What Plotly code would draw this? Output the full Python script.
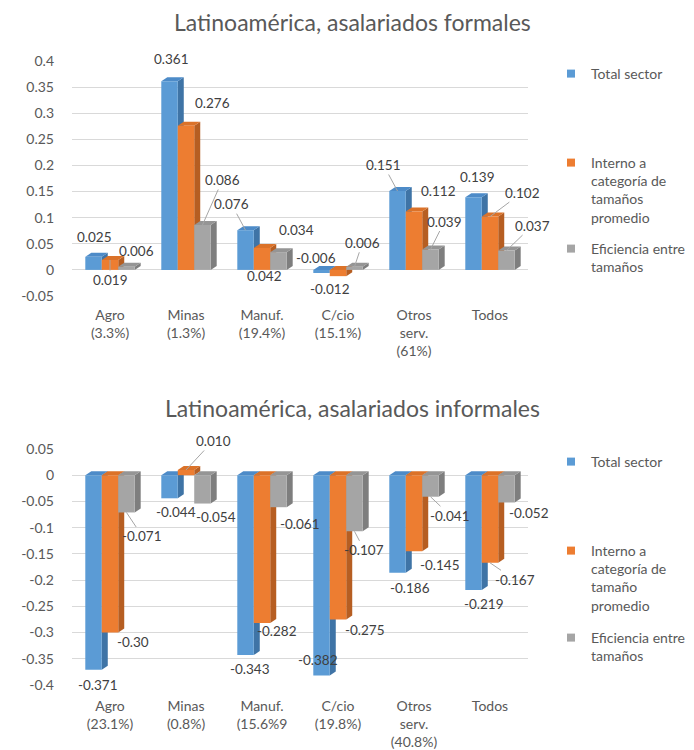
import plotly.graph_objects as go

# ---------------- data ----------------
cats_formal = ["Agro<br>(3.3%)", "Minas<br>(1.3%)", "Manuf.<br>(19.4%)", "C/cio<br>(15.1%)",
               "Otros<br>serv.<br>(61%)", "Todos"]
cats_informal = ["Agro<br>(23.1%)", "Minas<br>(0.8%)", "Manuf.<br>(15.6%9", "C/cio<br>(19.8%)",
                 "Otros<br>serv.<br>(40.8%)", "Todos"]

formal_total = [0.025, 0.361, 0.076, -0.006, 0.151, 0.139]
formal_interno = [0.019, 0.276, 0.042, -0.012, 0.112, 0.102]
formal_eficiencia = [0.006, 0.086, 0.034, 0.006, 0.039, 0.037]

informal_total = [-0.371, -0.044, -0.343, -0.382, -0.186, -0.219]
informal_interno = [-0.300, 0.010, -0.282, -0.275, -0.145, -0.167]
informal_eficiencia = [-0.071, -0.054, -0.061, -0.107, -0.041, -0.052]

names_formal = ["Total sector", "Interno a<br>categoría de<br>tamaños<br>promedio", "Eficiencia entre<br>tamaños"]
names_informal = ["Total sector", "Interno a<br>categoría de<br>tamaño<br>promedio", "Eficiencia entre<br>tamaños"]

ytick_formal = [-0.05, 0, 0.05, 0.1, 0.15, 0.2, 0.25, 0.3, 0.35, 0.4]
ytext_formal = ["-0.05", "0", "0.05", "0.1", "0.15", "0.2", "0.25", "0.3", "0.35", "0.4"]
ytick_informal = [-0.4, -0.35, -0.3, -0.25, -0.2, -0.15, -0.1, -0.05, 0, 0.05]
ytext_informal = ["-0.4", "-0.35", "-0.3", "-0.25", "-0.2", "-0.15", "-0.1", "-0.05", "0", "0.05"]

# label text overrides (as printed in the original)
label_override = {("inf", 1, 0): "-0.30"}

# ---------------- styling ----------------
PAGE = 8                      # default page margin around the figure
W, H = 694 - PAGE, 750 - PAGE
ML, MR = 72 - PAGE, 166
colors = ["#5B9BD5", "#ED7D31", "#A5A5A5"]
side_colors = ["#3F74A6", "#B65E22", "#7E7E7E"]
top_colors = ["#4D8BC8", "#DB7229", "#959595"]
FONT = "Lato, 'Open Sans', sans-serif"
TXT = "#595959"
LBL = "#404040"
BARGAP = 0.35
plot_w = W - ML - MR
px_per_unit_x = plot_w / 6.0
DEPTH_PX = 6
RISE_PX = 4


def ydom(top_px, bot_px):
    return [1 - (bot_px - PAGE) / H, 1 - (top_px - PAGE) / H]


top_dom = ydom(61, 296)
bot_dom = ydom(449, 685)
top_rng = [-0.05, 0.4]
bot_rng = [-0.4, 0.05]

# label offsets (pixels: dx right, dy up), and whether to draw a leader line
off_formal = [
    [(1, 20, 0), (2, 22, 0), (-14, 26, 1), (-6, 15, 0), (-14, 26, 1), (4, 20, 0)],
    [(0, -20, 1), (26, 23, 0), (2, -28, 0), (-8, -13, 0), (24, 20, 0), (32, 24, 1)],
    [(10, 16, 0), (20, 45, 1), (18, 22, 0), (8, 24, 1), (14, 28, 1), (26, 25, 1)],
]
off_informal = [
    [(4, -15, 0), (6, -14, 0), (4, -14, 0), (-4, 16, 0), (12, -15, 0), (10, -14, 0)],
    [(23, -9, 0), (27, 29, 1), (15, -8, 0), (27, -11, 0), (26, -14, 0), (25, -17, 1)],
    [(16, -24, 1), (14, -13, 0), (22, -17, 0), (10, -19, 1), (20, -19, 1), (23, -11, 0)],
]

fig = go.Figure()
shapes = []
annotations = []

panels = [
    ("fml", [formal_total, formal_interno, formal_eficiencia], names_formal, "x", "y",
     top_dom, top_rng, off_formal, ["legend", "legend2", "legend3"]),
    ("inf", [informal_total, informal_interno, informal_eficiencia], names_informal, "x2", "y2",
     bot_dom, bot_rng, off_informal, ["legend4", "legend5", "legend6"]),
]

w = (1 - BARGAP) / 3.0
xs = list(range(6))
for key, series, names, xa, ya, dom, rng, offs, legs in panels:
    plot_h = (dom[1] - dom[0]) * H
    px_per_unit_y = plot_h / (rng[1] - rng[0])
    dx = DEPTH_PX / px_per_unit_x
    dy = RISE_PX / px_per_unit_y
    for j, vals in enumerate(series):
        fig.add_trace(go.Bar(
            x=xs, y=vals, name=names[j], marker=dict(color=colors[j], line=dict(width=0)),
            xaxis=xa, yaxis=ya, showlegend=False, hoverinfo="skip",
        ))
        # legend entry with a small square symbol
        fig.add_trace(go.Scatter(
            x=[None], y=[None], mode="markers", name=names[j],
            marker=dict(symbol="square", size=8, color=colors[j]),
            xaxis=xa, yaxis=ya, legend=legs[j], showlegend=True, hoverinfo="skip",
        ))
        for i, v in enumerate(vals):
            c = i + (j - 1) * w
            xl, xr = c - w / 2, c + w / 2
            lo, hi = min(0, v), max(0, v)
            shapes.append(dict(
                type="path", xref=xa, yref=ya, layer="between", line=dict(width=0),
                fillcolor=side_colors[j],
                path=f"M{xr},{lo} L{xr+dx},{lo+dy} L{xr+dx},{hi+dy} L{xr},{hi} Z"))
            shapes.append(dict(
                type="path", xref=xa, yref=ya, layer="between", line=dict(width=0),
                fillcolor=top_colors[j],
                path=f"M{xl},{hi} L{xl+dx},{hi+dy} L{xr+dx},{hi+dy} L{xr},{hi} Z"))
            txt = label_override.get((key, j, i), f"{v:.3f}")
            ox, oy, lead = offs[j][i]
            ann = dict(x=c, y=v, xref=xa, yref=ya, text=txt,
                       font=dict(family=FONT, size=13.5, color=LBL))
            if lead:
                ann.update(showarrow=True, ax=ox, ay=-oy, arrowhead=0, arrowwidth=1,
                           arrowcolor="#A6A6A6")
            else:
                ann.update(showarrow=False, xshift=ox, yshift=oy)
            annotations.append(ann)

# titles
for ttl, ypx in [("Latinoamérica, asalariados formales", 22), ("Latinoamérica, asalariados informales", 408)]:
    annotations.append(dict(text=ttl, xref="paper", yref="paper",
                            x=(352 - PAGE - ML) / plot_w, y=1 - (ypx - PAGE) / H,
                            xanchor="center", yanchor="middle",
                            showarrow=False, font=dict(family=FONT, size=23, color=TXT)))

axis_common = dict(showline=False, zeroline=False, ticks="", automargin=False)
xfont = dict(family=FONT, size=14, color=TXT)
yfont = dict(family=FONT, size=14, color=TXT)
layout = dict(
    width=W, height=H, margin=dict(l=ML, r=MR, t=0, b=0, autoexpand=False),
    paper_bgcolor="white", plot_bgcolor="white",
    barmode="group", bargap=BARGAP, bargroupgap=0,
    xaxis=dict(domain=[0, 1], anchor="y", range=[-0.5, 5.5], tickvals=xs, ticktext=cats_formal,
               showgrid=False, ticklabelstandoff=9, tickfont=xfont, **axis_common),
    yaxis=dict(domain=top_dom, anchor="x", range=top_rng, tickvals=ytick_formal, ticktext=ytext_formal,
               showgrid=True, gridcolor="#D9D9D9", ticklabelstandoff=17, tickfont=yfont, **axis_common),
    xaxis2=dict(domain=[0, 1], anchor="y2", range=[-0.5, 5.5], tickvals=xs, ticktext=cats_informal,
                showgrid=False, ticklabelstandoff=11, tickfont=xfont, **axis_common),
    yaxis2=dict(domain=bot_dom, anchor="x2", range=bot_rng, tickvals=ytick_informal, ticktext=ytext_informal,
                showgrid=True, gridcolor="#D9D9D9", ticklabelstandoff=17, tickfont=yfont, **axis_common),
    shapes=shapes, annotations=annotations, showlegend=True,
)

# page-y of the first text line of each legend block
leg_pos = {"legend": 75, "legend2": 164, "legend3": 250, "legend4": 463, "legend5": 552, "legend6": 639}
for lg, ycen in leg_pos.items():
    layout[lg] = dict(xref="container", yref="container", x=(551 - PAGE) / W, y=1 - (ycen - 17 - PAGE) / H,
                      xanchor="left", yanchor="top", valign="top", bgcolor="rgba(0,0,0,0)",
                      font=dict(family=FONT, size=14, color=TXT), itemwidth=30, tracegroupgap=0)

fig.update_layout(**layout)
fig.write_html("out.html")
